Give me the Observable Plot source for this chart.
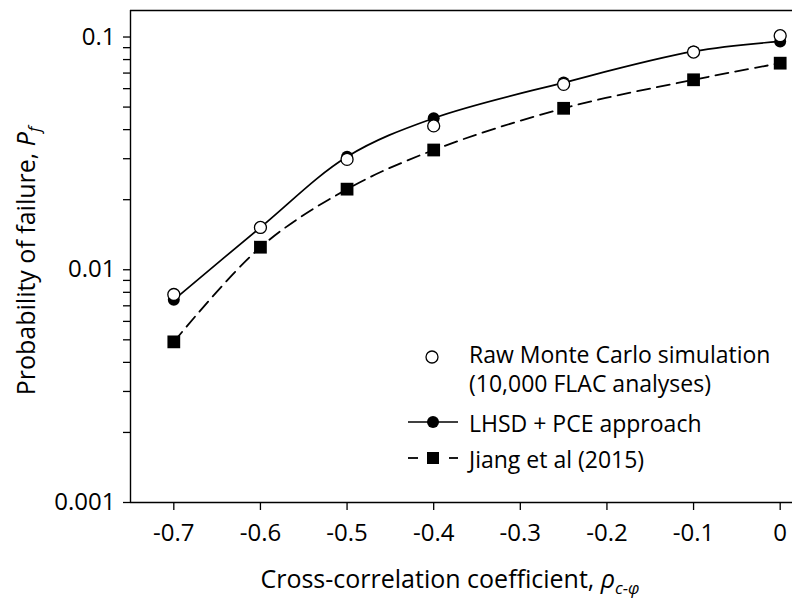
<!DOCTYPE html>
<html>
<head>
<meta charset="utf-8">
<script src="https://cdn.jsdelivr.net/npm/d3@7"></script>
<script src="https://cdn.jsdelivr.net/npm/@observablehq/plot@0.6"></script>
<style>
  html, body { margin: 0; padding: 0; background: #fff; overflow: hidden; }
  #wrap { width: 792px; height: 602px; overflow: hidden; position: relative; }
  #wrap svg { max-width: none !important; }
</style>
</head>
<body>
<div id="wrap"></div>
<script>
// ---- data ----
const rho = [-0.7, -0.6, -0.5, -0.4, -0.25, -0.1, 0];
const monteCarlo = [0.00783, 0.0152, 0.0298, 0.0415, 0.0626, 0.0862, 0.1013];
const lhsdPce = [0.00743, 0.0152, 0.0306, 0.0448, 0.0637, 0.0867, 0.0957];
const jiang2015 = [0.0049, 0.0125, 0.0222, 0.0327, 0.0494, 0.0655, 0.0772];

const xTicks = [-0.7, -0.6, -0.5, -0.4, -0.3, -0.2, -0.1, 0];
const yMajorTicks = [0.001, 0.01, 0.1];
const yMajorLabels = ["0.001", "0.01", "0.1"];
const yMinorTicks = [0.002, 0.003, 0.004, 0.005, 0.006, 0.007, 0.008, 0.009,
                     0.02, 0.03, 0.04, 0.05, 0.06, 0.07, 0.08, 0.09];
const xDomain = [-0.75, 0.05];
const yDomain = [0.001, 0.13];

const legendLabels = [
  ["Raw Monte Carlo simulation", "(10,000 FLAC analyses)"],
  ["LHSD + PCE approach"],
  ["Jiang et al (2015)"]
];

const mcData = rho.map((x, i) => ({x, y: monteCarlo[i]}));
const pceData = rho.map((x, i) => ({x, y: lhsdPce[i]}));
const jiangData = rho.map((x, i) => ({x, y: jiang2015[i]}));

const FONT = "'Open Sans', 'DejaVu Sans', sans-serif";

const chart = Plot.plot({
  width: 823,
  height: 602,
  marginLeft: 130,
  marginRight: 0,
  marginTop: 10,
  marginBottom: 100,
  style: {fontFamily: FONT, fontSize: "24px", color: "#000", background: "#fff", maxWidth: "none"},
  x: {domain: xDomain, label: null},
  y: {type: "log", domain: yDomain, label: null},
  marks: [
    Plot.axisX({ticks: xTicks, tickFormat: d => Math.abs(d) < 1e-9 ? "0" : d.toFixed(1),
                tickSize: 8, tickPadding: 13, strokeWidth: 1.3, fontSize: 24}),
    Plot.axisY({ticks: yMajorTicks, tickFormat: d => yMajorLabels[yMajorTicks.indexOf(d)],
                tickSize: 7, tickPadding: 8, strokeWidth: 1.3, fontSize: 24}),
    Plot.axisY({ticks: yMinorTicks, tickFormat: () => "", tickSize: 7, strokeWidth: 1.3}),
    Plot.ruleY([yDomain[0]], {strokeWidth: 1.4}),
    Plot.ruleY([yDomain[1]], {strokeWidth: 1.4}),
    Plot.ruleX([xDomain[0]], {strokeWidth: 1.4}),
    Plot.line(jiangData, {x: "x", y: "y", curve: "catmull-rom", stroke: "#000",
                          strokeWidth: 1.8, strokeDasharray: "13,7"}),
    Plot.line(pceData, {x: "x", y: "y", curve: "catmull-rom", stroke: "#000", strokeWidth: 1.7}),
    Plot.dot(jiangData, {x: "x", y: "y", symbol: "square", r: 7.2, fill: "#000"}),
    Plot.dot(pceData, {x: "x", y: "y", symbol: "circle", r: 6, fill: "#000"}),
    Plot.dot(mcData, {x: "x", y: "y", symbol: "circle", r: 6, fill: "#fff", stroke: "#000", strokeWidth: 1.3})
  ]
});

chart.style.maxWidth = "none";
document.getElementById("wrap").appendChild(chart);

const svg = d3.select(chart);

// Y axis title
const yt = svg.append("text")
  .attr("transform", "translate(35,261) rotate(-90)")
  .attr("text-anchor", "middle")
  .style("font-family", FONT).style("font-size", "25px").attr("fill", "#000");
yt.append("tspan").text("Probability of failure, ");
yt.append("tspan").text("P").style("font-style", "italic");
yt.append("tspan").text("f").style("font-style", "italic").style("font-size", "17px").attr("dy", "5");

// X axis title
const xt = svg.append("text")
  .attr("x", 450).attr("y", 588)
  .attr("text-anchor", "middle")
  .style("font-family", FONT).style("font-size", "25px").attr("fill", "#000");
xt.append("tspan").text("Cross-correlation coefficient, ");
xt.append("tspan").text("ρ").style("font-style", "italic");
xt.append("tspan").text("c-φ").style("font-style", "italic").style("font-size", "17px").attr("dy", "6");

// Legend
const lg = svg.append("g").style("font-family", FONT).style("font-size", "23px")
  .attr("text-anchor", "start");
// entry 1: open circle
lg.append("circle").attr("cx", 432).attr("cy", 357).attr("r", 6)
  .attr("fill", "#fff").attr("stroke", "#000").attr("stroke-width", 1.3);
lg.append("text").attr("x", 469).attr("y", 363).attr("text-anchor", "start").text(legendLabels[0][0]);
lg.append("text").attr("x", 469).attr("y", 392).attr("text-anchor", "start").text(legendLabels[0][1]);
// entry 2: solid line + filled circle
lg.append("line").attr("x1", 408).attr("x2", 458).attr("y1", 422).attr("y2", 422)
  .attr("stroke", "#000").attr("stroke-width", 1.7);
lg.append("circle").attr("cx", 433).attr("cy", 422).attr("r", 6).attr("fill", "#000");
lg.append("text").attr("x", 469).attr("y", 432).attr("text-anchor", "start").text(legendLabels[1][0]);
// entry 3: dashed line + square
lg.append("line").attr("x1", 408).attr("x2", 418).attr("y1", 458).attr("y2", 458)
  .attr("stroke", "#000").attr("stroke-width", 1.8);
lg.append("line").attr("x1", 449).attr("x2", 458).attr("y1", 458).attr("y2", 458)
  .attr("stroke", "#000").attr("stroke-width", 1.8);
lg.append("rect").attr("x", 427).attr("y", 452).attr("width", 12).attr("height", 12).attr("fill", "#000");
lg.append("text").attr("x", 469).attr("y", 468).attr("text-anchor", "start").text(legendLabels[2][0]);
</script>
</body>
</html>
